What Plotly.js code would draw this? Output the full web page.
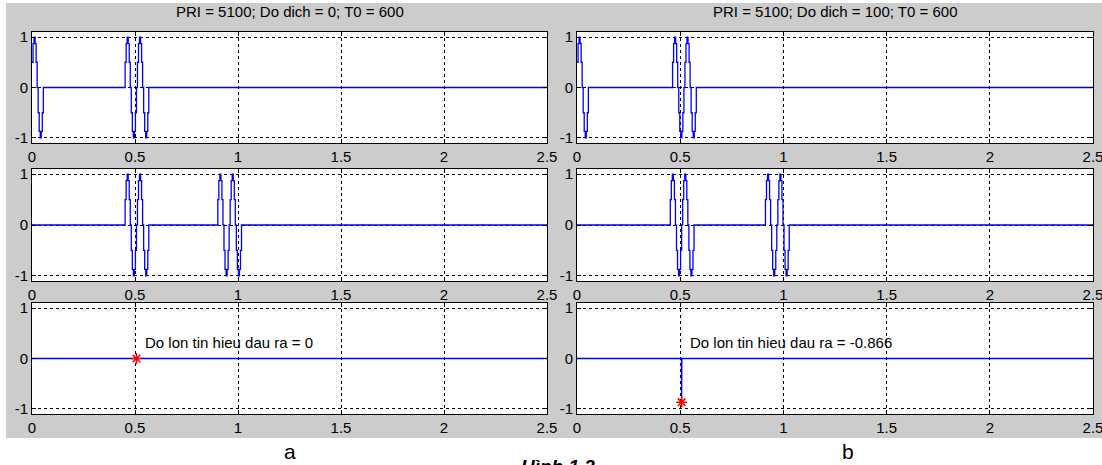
<!DOCTYPE html>
<html>
<head>
<meta charset="utf-8">
<script src="https://cdn.plot.ly/plotly-3.0.1.min.js"></script>
<style>html,body{margin:0;padding:0;background:#fff;}#chart{width:1102px;height:465px;}</style>
</head>
<body>
<div id="chart"></div>
<script>
// ---- data ----
const panelTitles = ['PRI = 5100; Do dich = 0; T0 = 600', 'PRI = 5100; Do dich = 100; T0 = 600'];
const xTickVals = [0, 0.5, 1, 1.5, 2, 2.5];
const xTickText = ['0', '0.5', '1', '1.5', '2', '2.5'];
const yTickVals = [-1, 0, 1];
const yTickText = ['-1', '0', '1'];
const xEnd = 2.5;
const sampleStep = 0.005;                       // spacing of the staircase samples
// leading partial pulse at t = 0 (top row)
const pulseTail = [0.5, 0.87, 1, 0.87, 0.5, 0, -0.5, -0.87, -1, -0.87, -0.5];
// full pulse (two cycles)
const pulseFull = [0, 0.5, 0.87, 1, 0.87, 0.5, 0, -0.5, -0.87, -1, -0.87, -0.5,
                   0, 0.5, 0.87, 1, 0.87, 0.5, 0, -0.5, -0.87, -1, -0.87, -0.5];
// pulse start times
const topLeftStarts = [0.447];
const midLeftStarts = [0.447, 0.897];
const topRightStarts = [0.458];
const midRightStarts = [0.447, 0.908];
// output signal (bottom row)
const outLeftX = [0, 0.507, 2.5];
const outLeftY = [0, 0, 0];
const outRightX = [0, 0.506, 0.507, 0.508, 2.5];
const outRightY = [0, 0, -0.866, 0, 0];
const peakLeft = {x: 0.507, y: 0};
const peakRight = {x: 0.507, y: -0.866};
const outTexts = ['Do lon tin hieu dau ra = 0', 'Do lon tin hieu dau ra = -0.866'];
const captions = ['a', 'b'];
const figCaption = 'Hình 1.2';

// ---- build staircase series from samples ----
function buildSeries(withTail, starts) {
  const xs = [], ys = [];
  if (withTail) {
    pulseTail.forEach((v, i) => { xs.push(i * sampleStep); ys.push(v); });
    xs.push(pulseTail.length * sampleStep); ys.push(0);
  } else {
    xs.push(0); ys.push(0);
  }
  starts.forEach(s => {
    pulseFull.forEach((v, i) => { xs.push(s + i * sampleStep); ys.push(v); });
    xs.push(s + pulseFull.length * sampleStep); ys.push(0);
  });
  xs.push(xEnd); ys.push(0);
  return {xs, ys};
}

const W = 1102, H = 465;
const px = v => v / W;
const py = v => 1 - v / H;
const colX = [[px(32), px(547)], [px(577), px(1093)]];
const rowY = [[py(143), py(32)], [py(281), py(169)], [py(414), py(303)]];

const FONT = 'Liberation Sans, Arial, Helvetica, sans-serif';
const BLUE = '#0000ff';

const traces = [];
const layout = {
  width: W, height: H,
  margin: {l: 0, r: 0, t: 0, b: 0},
  paper_bgcolor: '#cccccc',
  plot_bgcolor: '#ffffff',
  showlegend: false,
  font: {family: FONT, size: 15, color: '#000'},
  shapes: [
    {type: 'rect', xref: 'paper', yref: 'paper', x0: 0, x1: px(6), y0: 0, y1: 1, fillcolor: '#fff', line: {width: 0}, layer: 'below'},
    {type: 'rect', xref: 'paper', yref: 'paper', x0: 0, x1: 1, y0: py(3), y1: 1, fillcolor: '#fff', line: {width: 0}, layer: 'below'},
    {type: 'rect', xref: 'paper', yref: 'paper', x0: 0, x1: 1, y0: 0, y1: py(438), fillcolor: '#fff', line: {width: 0}, layer: 'below'}
  ],
  annotations: []
};

function axisCommon() {
  return {
    showgrid: true, gridcolor: '#000', gridwidth: 1, griddash: '3px,3px',
    showline: true, linecolor: '#000', linewidth: 1, mirror: 'ticks',
    ticks: 'inside', ticklen: 4, tickcolor: '#000', tickwidth: 1,
    zeroline: false, fixedrange: true, ticklabeloverflow: 'allow',
    tickfont: {family: FONT, size: 15, color: '#000'}
  };
}

let k = 0;
for (let c = 0; c < 2; c++) {
  for (let r = 0; r < 3; r++) {
    k++;
    const xa = 'xaxis' + (k === 1 ? '' : k);
    const ya = 'yaxis' + (k === 1 ? '' : k);
    const xr = 'x' + (k === 1 ? '' : k);
    const yr = 'y' + (k === 1 ? '' : k);
    layout[xa] = Object.assign(axisCommon(), {
      domain: colX[c], anchor: yr, range: [0, xEnd],
      tickmode: 'array', tickvals: xTickVals, ticktext: xTickText
    });
    layout[ya] = Object.assign(axisCommon(), {
      domain: rowY[r], anchor: xr, range: [-1.1, 1.1],
      tickmode: 'array', tickvals: yTickVals, ticktext: yTickText
    });
    if (r === 0 || r === 1) {
      const starts = c === 0 ? (r === 0 ? topLeftStarts : midLeftStarts)
                             : (r === 0 ? topRightStarts : midRightStarts);
      const s = buildSeries(r === 0, starts);
      traces.push({x: s.xs, y: s.ys, xaxis: xr, yaxis: yr, type: 'scatter', mode: 'lines',
        line: {color: BLUE, width: 1.3, shape: 'hv'}, hoverinfo: 'skip'});
    } else {
      const ox = c === 0 ? outLeftX : outRightX;
      const oy = c === 0 ? outLeftY : outRightY;
      const pk = c === 0 ? peakLeft : peakRight;
      traces.push({x: ox, y: oy, xaxis: xr, yaxis: yr, type: 'scatter', mode: 'lines',
        line: {color: BLUE, width: 1.3}, hoverinfo: 'skip'});
      traces.push({x: [pk.x], y: [pk.y], xaxis: xr, yaxis: yr, type: 'scatter', mode: 'markers',
        marker: {symbol: 'asterisk-open', size: 9, color: '#ff0000', line: {color: '#ff0000', width: 1.5}},
        hoverinfo: 'skip'});
      layout.annotations.push({xref: xr, yref: yr, x: 0.54, y: 0.31, text: outTexts[c],
        showarrow: false, xanchor: 'left', yanchor: 'middle',
        font: {family: FONT, size: 15, color: '#000'}});
    }
  }
  // column title and caption
  layout.annotations.push({xref: 'paper', yref: 'paper', x: (colX[c][0] + colX[c][1]) / 2, y: py(12),
    text: panelTitles[c], showarrow: false, xanchor: 'center', yanchor: 'middle',
    font: {family: FONT, size: 15, color: '#000'}});
  layout.annotations.push({xref: 'paper', yref: 'paper', x: px(c === 0 ? 290 : 848), y: py(451),
    text: captions[c], showarrow: false, xanchor: 'center', yanchor: 'middle',
    font: {family: FONT, size: 21, color: '#000'}});
}
layout.annotations.push({xref: 'paper', yref: 'paper', x: px(558), y: py(454),
  text: '<b><i>' + figCaption + '</i></b>', showarrow: false, xanchor: 'center', yanchor: 'top',
  font: {family: FONT, size: 19, color: '#000'}});

Plotly.newPlot('chart', traces, layout, {displayModeBar: false, staticPlot: true});
</script>
</body>
</html>
